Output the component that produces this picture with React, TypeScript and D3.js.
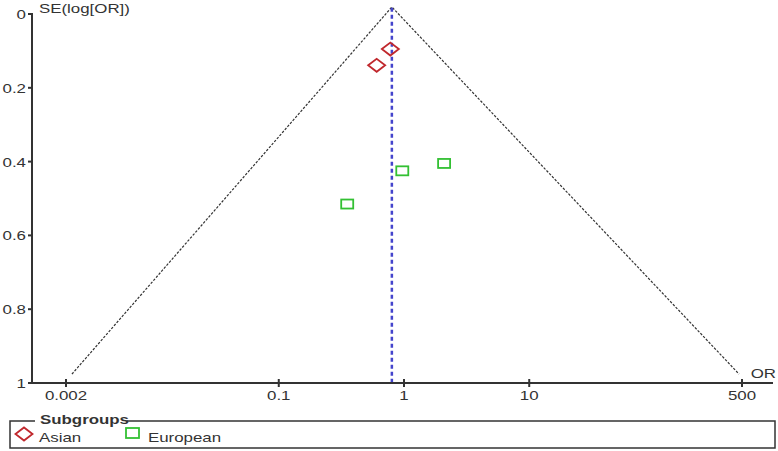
import * as d3 from "d3";

// study estimates
const asianOR = [0.778, 0.605];
const asianSE = [0.095, 0.139];
const europeanOR = [0.969, 2.09, 0.352];
const europeanSE = [0.425, 0.405, 0.515];

// pooled estimate and funnel (pseudo 95% limits)
const pooledOR = 0.8;
const funnelOR = [0.00223, 0.8, 474];
const funnelSE = [0.976, -0.019, 0.976];

const xTicks = [0.002, 0.1, 1, 10, 500];
const yTicks = [0, 0.2, 0.4, 0.6, 0.8, 1];

const W = 778;
const H = 451;
const SX = 1.25; // the source image is stretched horizontally
const FONT = "'Liberation Sans', Arial, sans-serif";

const Label = ({ x, y, anchor = "start", bold = false, children }: any) => (
  <text
    transform={`translate(${x},${y}) scale(${SX},1)`}
    textAnchor={anchor}
    fontFamily={FONT}
    fontSize={13.5}
    fontWeight={bold ? "bold" : "normal"}
    fill="#333"
  >
    {children}
  </text>
);

export default function App() {
  const x = d3.scaleLog().domain([0.002, 500]).range([66, 742]);
  const y = d3.scaleLinear().domain([0, 1]).range([14, 383]);

  const funnel = d3
    .line<number>()
    .x((_, i) => x(funnelOR[i]))
    .y((_, i) => y(funnelSE[i]))(funnelOR.map((d) => d));

  const diamond = (cx: number, cy: number) =>
    `M${cx - 8.5},${cy} L${cx},${cy - 6.5} L${cx + 8.5},${cy} L${cx},${cy + 6.5} Z`;

  return (
    <svg
      width={W}
      height={H}
      style={{ position: "absolute", left: 0, top: 0, background: "#fff" }}
    >
      {/* funnel */}
      <path d={funnel ?? ""} fill="none" stroke="#333" strokeWidth={1.2} strokeDasharray="2.5,1.5" />
      {/* pooled estimate */}
      <line
        x1={x(pooledOR)}
        x2={x(pooledOR)}
        y1={y(-0.017)}
        y2={y(1)}
        stroke="#4444cc"
        strokeWidth={2.5}
        strokeDasharray="4,3"
      />

      {/* axes */}
      <line x1={32} x2={32} y1={y(0)} y2={y(1)} stroke="#333" strokeWidth={2} />
      <line x1={31} x2={773} y1={y(1)} y2={y(1)} stroke="#333" strokeWidth={2} />
      {yTicks.map((t) => (
        <g key={t}>
          <line x1={28} x2={33} y1={y(t)} y2={y(t)} stroke="#333" strokeWidth={2} />
          <Label x={26} y={y(t) + 5} anchor="end">
            {String(t)}
          </Label>
        </g>
      ))}
      {xTicks.map((t) => (
        <g key={t}>
          <line x1={x(t)} x2={x(t)} y1={y(1) - 4} y2={y(1) + 4} stroke="#333" strokeWidth={2} />
          <Label x={x(t)} y={y(1) + 17} anchor="middle">
            {String(t)}
          </Label>
        </g>
      ))}
      <Label x={39} y={13}>SE(log[OR])</Label>
      <Label x={776} y={378} anchor="end">OR</Label>

      {/* studies */}
      {asianOR.map((d, i) => (
        <path
          key={"a" + i}
          d={diamond(x(d), y(asianSE[i]))}
          fill="none"
          stroke="#c0282d"
          strokeWidth={1.8}
        />
      ))}
      {europeanOR.map((d, i) => (
        <rect
          key={"e" + i}
          x={x(d) - 6}
          y={y(europeanSE[i]) - 4.5}
          width={12}
          height={9}
          fill="none"
          stroke="#33c033"
          strokeWidth={1.8}
        />
      ))}

      {/* legend */}
      <rect x={10} y={421} width={765} height={27} fill="none" stroke="#333" strokeWidth={1.5} />
      <rect x={35} y={413} width={92} height={13} fill="#fff" />
      <Label x={40} y={424} bold>
        Subgroups
      </Label>
      <path d={diamond(24, 434)} fill="none" stroke="#c0282d" strokeWidth={1.8} />
      <Label x={39} y={442}>Asian</Label>
      <rect x={126} y={428} width={13} height={10} fill="none" stroke="#33c033" strokeWidth={1.8} />
      <Label x={148} y={442}>European</Label>
    </svg>
  );
}
